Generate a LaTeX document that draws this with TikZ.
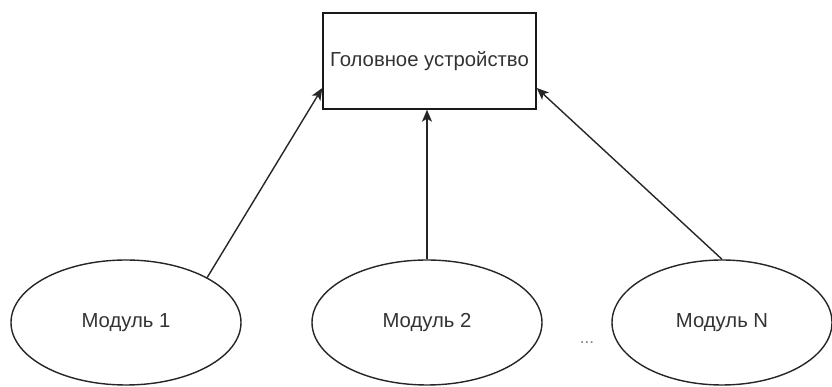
\documentclass[tikz,border=0pt]{standalone}
\usepackage{fontspec}
\setmainfont{Liberation Sans}
\usetikzlibrary{arrows.meta,shapes.geometric}
\begin{document}
\begin{tikzpicture}[x=1pt,y=1pt,
  every node/.style={text=black!80, font=\fontsize{20.3}{24}\selectfont},
  headbox/.style={draw=black!90, line width=1.4pt, minimum width=213pt, minimum height=96pt, inner sep=0pt},
  modnode/.style={draw=black!85, line width=1.4pt, ellipse, minimum width=230pt, minimum height=125pt, inner sep=0pt},
  link/.style={draw=black!85, line width=1.4pt, -{Stealth[length=12pt,width=10pt,inset=3pt]}}
]
\useasboundingbox (0,0) rectangle (832,387);
\fill[white] (0,0) rectangle (832,387);

\node[headbox] (head) at (429.5,326) {Головное устройство};

\node[modnode] (m1) at (126,64.5) {Модуль 1};
\node[modnode] (m2) at (427,64.5) {Модуль 2};
\node[modnode, minimum width=220pt] (mn) at (722,64.5) {Модуль N};

\node[font=\fontsize{17}{20}\selectfont, text=black!50, anchor=base, inner sep=0pt] (dots) at (587,43) {...};

\draw[link] (m1.29.3) -- ([yshift=-27pt]head.west);
\draw[link] (m2.north) -- (m2.north |- head.south);
\draw[link] (mn.north) -- ([yshift=-27pt]head.east);
\end{tikzpicture}
\end{document}
